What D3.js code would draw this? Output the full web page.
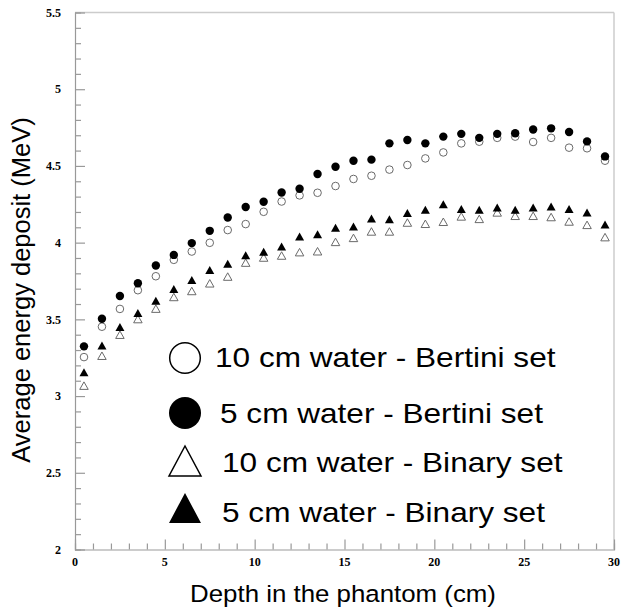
<!DOCTYPE html>
<html><head><meta charset="utf-8">
<script src="https://cdn.jsdelivr.net/npm/d3@7"></script>
<style>html,body{margin:0;padding:0;background:#fff;}</style>
</head><body>
<svg id="chart" width="621" height="609"></svg>
<script>
const depth = [0.5,1.5,2.5,3.5,4.5,5.5,6.5,7.5,8.5,9.5,10.5,11.5,12.5,13.5,14.5,15.5,16.5,17.5,18.5,19.5,20.5,21.5,22.5,23.5,24.5,25.5,26.5,27.5,28.5,29.5];
const bertini10 = [3.254,3.452,3.568,3.690,3.781,3.888,3.942,3.999,4.082,4.121,4.201,4.268,4.308,4.325,4.369,4.415,4.436,4.476,4.506,4.549,4.588,4.647,4.658,4.683,4.691,4.656,4.683,4.619,4.615,4.534];
const bertini5 = [3.324,3.504,3.652,3.735,3.851,3.920,3.997,4.077,4.164,4.232,4.267,4.327,4.351,4.447,4.495,4.534,4.541,4.647,4.669,4.647,4.691,4.709,4.683,4.709,4.713,4.737,4.745,4.721,4.660,4.562];
const binary10 = [3.068,3.263,3.400,3.502,3.570,3.646,3.685,3.735,3.779,3.870,3.903,3.916,3.938,3.944,4.005,4.031,4.073,4.073,4.131,4.123,4.136,4.171,4.155,4.197,4.175,4.175,4.167,4.138,4.116,4.036];
const binary5 = [3.156,3.330,3.450,3.541,3.622,3.698,3.757,3.822,3.862,3.918,3.940,3.975,4.040,4.055,4.097,4.105,4.157,4.153,4.193,4.214,4.251,4.219,4.214,4.229,4.214,4.229,4.236,4.219,4.197,4.119];
const seriesNames = ["10 cm water - Bertini set","5 cm water - Bertini set","10 cm water - Binary set","5 cm water - Binary set"];
const xTickLabels = ["0","5","10","15","20","25","30"];
const yTickLabels = ["2","2.5","3","3.5","4","4.5","5","5.5"];

const svg = d3.select("#chart");
const x = d3.scaleLinear().domain([0,30]).range([75,614]);
const y = d3.scaleLinear().domain([2,5.5]).range([549.5,12.5]);

// frame
svg.append("line").attr("x1",75).attr("x2",614).attr("y1",12.5).attr("y2",12.5).attr("stroke","#cccccc").attr("stroke-width",1.5);
svg.append("line").attr("x1",614).attr("x2",614).attr("y1",12.5).attr("y2",549.5).attr("stroke","#cccccc").attr("stroke-width",1.5);

// axes with inward ticks
const minorX = d3.range(0,31,1), minorY = d3.range(20,56,1).map(v=>v/10);
const gx = svg.append("g").attr("transform","translate(0,549.5)");
gx.call(d3.axisTop(x).tickValues(minorX).tickSize(6).tickFormat(""));
gx.call(g=>g.selectAll(".tick").filter(d=>d%5===0).select("line").attr("y2",-10));
gx.selectAll("path,line").attr("stroke","#999").attr("stroke-width",1.2);
const gy = svg.append("g").attr("transform","translate(75,0)");
gy.call(d3.axisRight(y).tickValues(minorY).tickSize(6).tickFormat(""));
gy.call(g=>g.selectAll(".tick").filter(d=>Math.abs(d*2-Math.round(d*2))<1e-6).select("line").attr("x2",10));
gy.selectAll("path,line").attr("stroke","#999").attr("stroke-width",1.2);

// tick labels
svg.append("g").selectAll("text").data(xTickLabels).join("text")
  .attr("x",d=>x(+d)).attr("y",566).attr("text-anchor","middle")
  .attr("font-family","'Liberation Serif',serif").attr("font-weight","bold").attr("font-size",12)
  .text(d=>d);
svg.append("g").selectAll("text").data(yTickLabels).join("text")
  .attr("x",61).attr("y",d=>y(+d)).attr("dy","0.35em").attr("text-anchor","end")
  .attr("font-family","'Liberation Serif',serif").attr("font-weight","bold").attr("font-size",12)
  .text(d=>d);

// axis titles
svg.append("text").attr("transform","translate(343,602) scale(1.1,1)").attr("text-anchor","middle")
  .attr("font-family","'Liberation Sans',Arial,sans-serif").attr("font-size",23.5).text("Depth in the phantom (cm)");
svg.append("text").attr("transform","translate(30,290) rotate(-90)").attr("text-anchor","middle")
  .attr("font-family","'Liberation Sans',Arial,sans-serif").attr("font-size",25.5).text("Average energy deposit (MeV)");

function tri(w,h){return `M0,${-h/2}L${w/2},${h/2}L${-w/2},${h/2}Z`;}

// data markers
const plot = svg.append("g");
plot.selectAll(".c10").data(depth).join("circle").attr("class","c10")
  .attr("cx",d=>x(d)).attr("cy",(d,i)=>y(bertini10[i])).attr("r",3.8)
  .attr("fill","none").attr("stroke","#6a6a6a").attr("stroke-width",1);
plot.selectAll(".c5").data(depth).join("circle").attr("class","c5")
  .attr("cx",d=>x(d)).attr("cy",(d,i)=>y(bertini5[i])).attr("r",4.2)
  .attr("fill","#000");
plot.selectAll(".t10").data(depth).join("path").attr("class","t10")
  .attr("d",tri(8.5,7.5)).attr("transform",(d,i)=>`translate(${x(d)},${y(binary10[i])})`)
  .attr("fill","none").attr("stroke","#6a6a6a").attr("stroke-width",1);
plot.selectAll(".t5").data(depth).join("path").attr("class","t5")
  .attr("d",tri(9,8)).attr("transform",(d,i)=>`translate(${x(d)},${y(binary5[i])})`)
  .attr("fill","#000");

// legend
const leg = [
  {sym:"circle", fill:false, cy:358, tx:215, ty:367},
  {sym:"circle", fill:true, cy:413, tx:220, ty:423},
  {sym:"tri", fill:false, cy:461, tx:222, ty:472},
  {sym:"tri", fill:true, cy:508, tx:222, ty:522}
];
leg.forEach((L,i)=>{
  if(L.sym==="circle"){
    svg.append("circle").attr("cx",185).attr("cy",L.cy).attr("r",L.fill?16:15.3)
      .attr("fill",L.fill?"#000":"none").attr("stroke","#000").attr("stroke-width",L.fill?0:1.5);
  } else {
    svg.append("path").attr("d",tri(32,30)).attr("transform",`translate(185,${L.cy})`)
      .attr("fill",L.fill?"#000":"none").attr("stroke","#000").attr("stroke-width",L.fill?0:1.5).attr("stroke-linejoin","miter");
  }
  svg.append("text").attr("transform",`translate(${L.tx},${L.ty}) scale(1.17,1)`)
    .attr("font-family","'Liberation Sans',Arial,sans-serif").attr("font-size",27).text(seriesNames[i]);
});
</script>
</body></html>
